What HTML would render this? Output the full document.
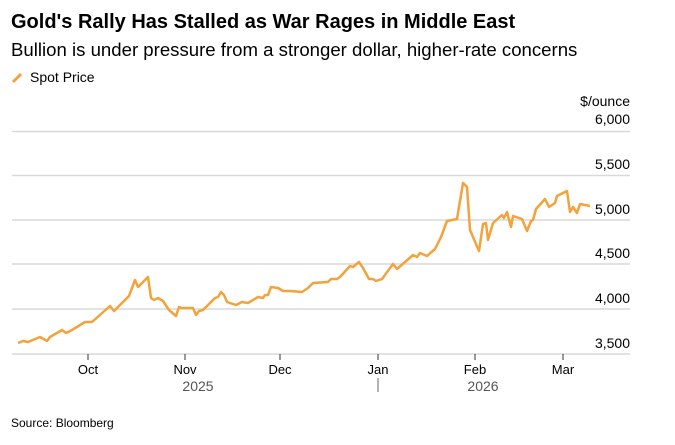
<!DOCTYPE html>
<html><head><style>
body{margin:0;width:675px;height:440px;background:#fff;font-family:"Liberation Sans",Arial,sans-serif;overflow:hidden}
</style></head><body>
<svg width="675" height="440" xmlns="http://www.w3.org/2000/svg" font-family="Liberation Sans, Arial, sans-serif">
<text x="11" y="28" font-size="20" font-weight="bold" fill="#000">Gold's Rally Has Stalled as War Rages in Middle East</text>
<text x="11" y="56" font-size="18.6" fill="#000">Bullion is under pressure from a stronger dollar, higher-rate concerns</text>
<line x1="13" y1="82" x2="21" y2="74" stroke="#f4a23c" stroke-width="3"/>
<text x="30" y="82" font-size="14" fill="#000">Spot Price</text>
<g stroke="#d9d9d9" stroke-width="1.5">
<line x1="12" y1="131.5" x2="630" y2="131.5"/>
<line x1="12" y1="175.5" x2="630" y2="175.5"/>
<line x1="12" y1="220" x2="630" y2="220"/>
<line x1="12" y1="264" x2="630" y2="264"/>
<line x1="12" y1="309" x2="630" y2="309"/>
<line x1="12" y1="354" x2="630" y2="354"/>
</g>
<g font-size="14" fill="#000" text-anchor="end">
<text x="630" y="106">$/ounce</text>
<text x="630" y="124">6,000</text>
<text x="630" y="169">5,500</text>
<text x="630" y="214">5,000</text>
<text x="630" y="258">4,500</text>
<text x="630" y="303">4,000</text>
<text x="630" y="348">3,500</text>
</g>
<g stroke="#333" stroke-width="1">
<line x1="88" y1="354" x2="88" y2="360"/><line x1="185" y1="354" x2="185" y2="360"/>
<line x1="280" y1="354" x2="280" y2="360"/><line x1="378" y1="354" x2="378" y2="360"/>
<line x1="475" y1="354" x2="475" y2="360"/><line x1="563" y1="354" x2="563" y2="360"/>
<line x1="378" y1="378" x2="378" y2="392" stroke="#666"/>
</g>
<g font-size="13" fill="#000" text-anchor="middle">
<text x="88" y="374">Oct</text><text x="185" y="374">Nov</text><text x="280" y="374">Dec</text>
<text x="378" y="374">Jan</text><text x="475" y="374">Feb</text><text x="563" y="374">Mar</text>
<text x="198" y="391" fill="#555" font-size="14">2025</text>
<text x="483" y="391" fill="#555" font-size="14">2026</text>
</g>
<polyline fill="none" stroke="#f4a23c" stroke-width="2.5" stroke-linejoin="round" points="18,343 23,341 28,342 40,337 47,341 50,337 62,330 66,333 72,330 85,322 92,322 110,306 114,311 129,296 135,280 138,287 148,277 151,298 154,300 158,298 163,301 169,310 176,316 179,307 182,308 193,308 196,315 199,311 203,310 215,298 218,297 221,292 224,295 227,302 236,305 242,302 248,303 258,297 263,298 265,295 268,295 271,287 278,288 283,291 290,291 302,292 308,288 313,283 328,282 331,279 337,279 340,277 350,266 353,267 359,262 363,268 369,279 373,279 376,281 382,279 393,264 397,269 413,255 417,257 420,253 427,256 435,249 441,237 447,221 457,219 463,183 467,187 470,230 479,251 483,224 486,223 488,240 493,223 502,215 504,218 507,212 511,227 513,216 522,219 527,231 531,221 533,220 536,209 545,199 549,207 555,203 557,196 567,191 570,212 573,207 577,213 580,204 590,206"/>
<text x="11" y="427" font-size="12" fill="#000">Source: Bloomberg</text>
</svg>
</body></html>
